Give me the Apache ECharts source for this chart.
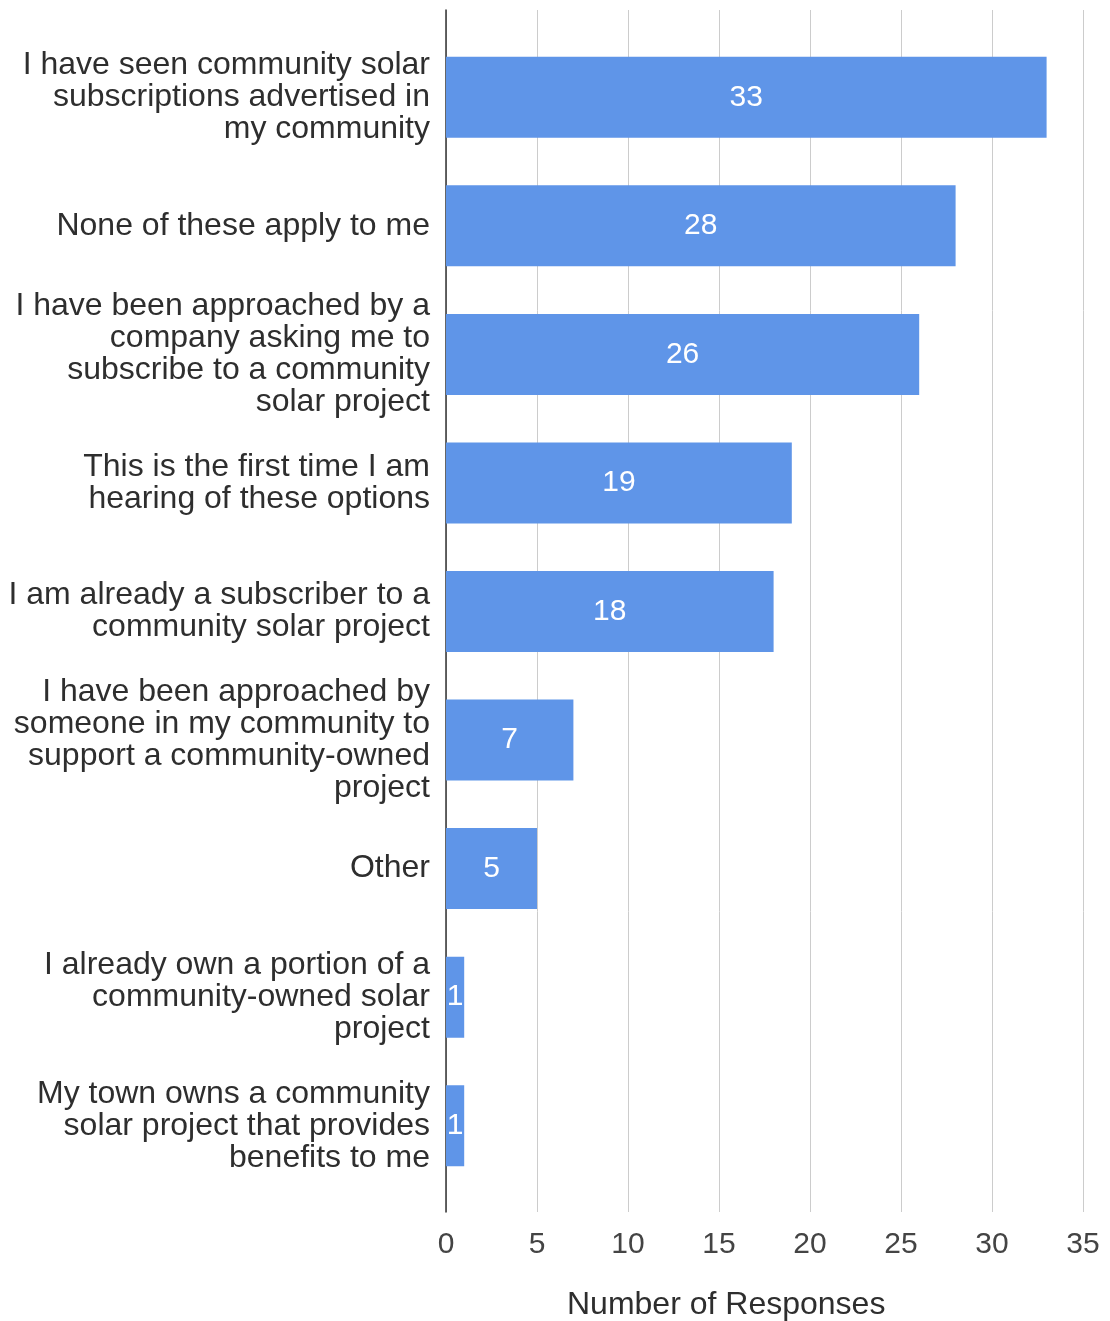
<!DOCTYPE html>
<html>
<head>
<meta charset="utf-8">
<script src="https://cdn.jsdelivr.net/npm/echarts@6/dist/echarts.min.js"></script>
<style>
  html, body { margin: 0; padding: 0; background: #fff; }
  #chart { width: 1110px; height: 1321px; }
</style>
</head>
<body>
<div id="chart"></div>
<script>
// Survey answers, top to bottom
const categories = [
  'I have seen community solar\nsubscriptions advertised in\nmy community',
  'None of these apply to me',
  'I have been approached by a\ncompany asking me to\nsubscribe to a community\nsolar project',
  'This is the first time I am\nhearing of these options',
  'I am already a subscriber to a\ncommunity solar project',
  'I have been approached by\nsomeone in my community to\nsupport a community-owned\nproject',
  'Other',
  'I already own a portion of a\ncommunity-owned solar\nproject',
  'My town owns a community\nsolar project that provides\nbenefits to me'
];
const responses = [33, 28, 26, 19, 18, 7, 5, 1, 1];
const xTicks = { min: 0, max: 35, interval: 5 };
const axisTitle = 'Number of Responses';

const FONT = '"Liberation Sans", Arial, sans-serif';
const chart = echarts.init(document.getElementById('chart'), null, { renderer: 'canvas' });

chart.setOption({
  animation: false,
  backgroundColor: '#ffffff',
  grid: [
    // bars
    { left: 446, right: 27, top: 33, bottom: 131 },
    // frame: vertical axis line, gridlines and tick labels
    { left: 446, right: 27, top: 10, bottom: 109 }
  ],
  xAxis: [
    {
      gridIndex: 0, type: 'value',
      min: xTicks.min, max: xTicks.max, interval: xTicks.interval,
      show: false
    },
    {
      gridIndex: 1, type: 'value',
      min: xTicks.min, max: xTicks.max, interval: xTicks.interval,
      axisLine: { show: false },
      axisTick: { show: false },
      splitLine: { show: true, lineStyle: { color: '#cccccc', width: 1 } },
      axisLabel: { fontFamily: FONT, fontSize: 30, color: '#444', margin: 18 }
    }
  ],
  yAxis: [
    {
      gridIndex: 0, type: 'category', inverse: true,
      data: categories,
      axisLine: { show: false },
      axisTick: { show: false },
      splitLine: { show: false },
      axisLabel: {
        fontFamily: FONT, fontSize: 32, lineHeight: 32,
        color: '#2e2e2e', margin: 16, align: 'right'
      }
    },
    {
      gridIndex: 1, type: 'value',
      min: 0, max: 1,
      axisLine: { show: true, lineStyle: { color: '#333', width: 1.5 } },
      axisTick: { show: false },
      axisLabel: { show: false },
      splitLine: { show: false }
    }
  ],
  graphic: [
    {
      type: 'text',
      left: 567, top: 1289,
      style: {
        text: axisTitle,
        font: '32px ' + FONT,
        fill: '#2e2e2e'
      }
    }
  ],
  series: [
    {
      type: 'bar',
      xAxisIndex: 0, yAxisIndex: 0,
      data: responses,
      barWidth: 81,
      itemStyle: { color: '#5F95E8' },
      label: {
        show: true, position: 'inside',
        fontFamily: FONT, fontSize: 30, color: '#ffffff'
      }
    }
  ]
});
</script>
</body>
</html>
